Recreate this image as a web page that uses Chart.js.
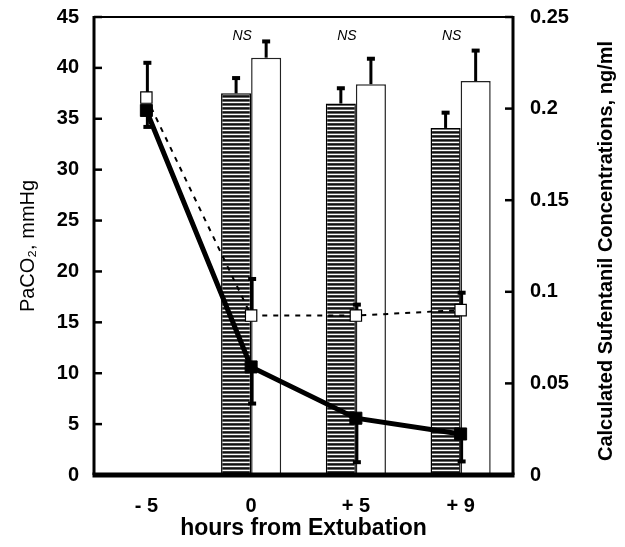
<!DOCTYPE html>
<html><head><meta charset="utf-8">
<script src="https://cdn.jsdelivr.net/npm/chart.js@4.4.1/dist/chart.umd.min.js"></script>
<style>html,body{margin:0;padding:0;background:#fff;} #wrap{width:625px;height:547px;}</style>
</head><body><div id="wrap"><canvas id="c" width="625" height="547"></canvas></div>
<script>
// ---- data ----
const categories = ['- 5', '0', '+ 5', '+ 9'];
const paco2Hatched = [null, 37.5, 36.5, 34.1];
const paco2HatchedErr = [null, 1.5, 1.5, 1.5];
const paco2Open = [null, 41.0, 38.4, 38.7];
const paco2OpenErr = [null, 1.6, 2.5, 3.0];
const sufSolid = [0.199, 0.059, 0.031, 0.0224];
const sufSolidErr = [0.009, 0.020, 0.024, 0.015];
const sufDashed = [0.206, 0.087, 0.087, 0.090];
const sufDashedErr = [0.019, 0.020, 0.006, 0.0095];
const leftTickLabels = ['0', '5', '10', '15', '20', '25', '30', '35', '40', '45'];
const rightTickLabels = ['0', '0.05', '0.1', '0.15', '0.2', '0.25'];
const nsLabels = ['', 'NS', 'NS', 'NS'];
const rightTitle = 'Calculated Sufentanil Concentrations, ng/ml';

const FONT = '"Liberation Sans", Arial, Helvetica, sans-serif';

// hatched fill pattern
function makePattern() {
  const p = document.createElement('canvas');
  p.width = 4; p.height = 4;
  const g = p.getContext('2d');
  const rows = ['#111', '#666', '#ffffff', '#3a3a3a'];
  rows.forEach((c, i) => { g.fillStyle = c; g.fillRect(0, i, 4, 1); });
  return document.getElementById('c').getContext('2d').createPattern(p, 'repeat');
}
const hatch = makePattern();

// dir: +1 = upward error bar, -1 = downward
function errBar(ctx, x, yScale, v, e, dir) {
  if (v == null || e == null) return;
  const yEnd = yScale.getPixelForValue(v + dir * e);
  const yMid = yScale.getPixelForValue(v);
  ctx.save();
  ctx.strokeStyle = '#000';
  ctx.fillStyle = '#000';
  ctx.lineWidth = 3;
  ctx.beginPath();
  ctx.moveTo(x, yMid);
  ctx.lineTo(x, yEnd);
  ctx.stroke();
  ctx.fillRect(x - 4, yEnd - 2, 8, 4);
  ctx.restore();
}

const decor = {
  id: 'decor',
  afterDatasetDraw(chart, args) {
    if (args.index !== 0) return;
    const ctx = chart.ctx;
    const y = chart.scales.y, y2 = chart.scales.y2;
    const m0 = chart.getDatasetMeta(0), m1 = chart.getDatasetMeta(1);
    const m2 = chart.getDatasetMeta(2), m3 = chart.getDatasetMeta(3);
    for (let i = 0; i < categories.length; i++) {
      errBar(ctx, m0.data[i].x, y, paco2Hatched[i], paco2HatchedErr[i], 1);
      errBar(ctx, m1.data[i].x, y, paco2Open[i], paco2OpenErr[i], 1);
      errBar(ctx, m2.data[i].x + 1, y2, sufSolid[i], sufSolidErr[i], -1);
      errBar(ctx, m3.data[i].x + 1, y2, sufDashed[i], sufDashedErr[i], 1);
    }
  },
  afterDraw(chart) {
    const ctx = chart.ctx;
    const a = chart.chartArea;
    const y = chart.scales.y, y2 = chart.scales.y2, x = chart.scales.x;
    ctx.save();
    ctx.strokeStyle = '#000';
    // ticks inside
    ctx.lineWidth = 2.5;
    y.ticks.forEach(t => {
      const py = y.getPixelForValue(t.value);
      ctx.beginPath(); ctx.moveTo(a.left, py); ctx.lineTo(a.left + 8, py); ctx.stroke();
    });
    y2.ticks.forEach(t => {
      const py = y2.getPixelForValue(t.value);
      ctx.beginPath(); ctx.moveTo(a.right - 8, py); ctx.lineTo(a.right, py); ctx.stroke();
    });
    // frame
    ctx.lineWidth = 2;
    ctx.beginPath(); ctx.moveTo(a.left, a.top); ctx.lineTo(a.right, a.top); ctx.stroke();
    ctx.lineWidth = 3;
    ctx.beginPath(); ctx.moveTo(a.left, a.top - 1); ctx.lineTo(a.left, a.bottom); ctx.stroke();
    ctx.beginPath(); ctx.moveTo(a.right, a.top - 1); ctx.lineTo(a.right, a.bottom); ctx.stroke();
    ctx.lineWidth = 5;
    ctx.beginPath(); ctx.moveTo(a.left - 1.5, a.bottom); ctx.lineTo(a.right + 1.5, a.bottom); ctx.stroke();
    // NS labels
    ctx.fillStyle = '#000';
    ctx.font = 'italic 14px ' + FONT;
    ctx.textAlign = 'center';
    ctx.textBaseline = 'middle';
    nsLabels.forEach((s, i) => {
      if (!s) return;
      ctx.fillText(s, x.getPixelForValue(i) - 9, a.top + 19);
    });
    // right axis title, reading bottom-to-top
    ctx.font = 'bold 20px ' + FONT;
    ctx.translate(y2.right - 19, (a.top + a.bottom) / 2 + 5);
    ctx.rotate(-Math.PI / 2);
    ctx.fillText(rightTitle, 0, 0);
    ctx.restore();
  }
};

new Chart(document.getElementById('c'), {
  type: 'bar',
  data: {
    labels: categories,
    datasets: [
      { type: 'bar', data: paco2Hatched, yAxisID: 'y', backgroundColor: hatch,
        borderColor: '#000', borderWidth: 1.5, order: 3,
        barPercentage: 1.0, categoryPercentage: 0.574 },
      { type: 'bar', data: paco2Open, yAxisID: 'y', backgroundColor: '#fff',
        borderColor: '#222', borderWidth: 1.5, order: 4,
        barPercentage: 1.0, categoryPercentage: 0.574 },
      { type: 'line', data: sufSolid, yAxisID: 'y2', borderColor: '#000', borderWidth: 5,
        pointStyle: 'rect', pointRadius: 8.5, pointBackgroundColor: '#000', pointBorderColor: '#000',
        pointBorderWidth: 1, tension: 0, fill: false, order: 2 },
      { type: 'line', data: sufDashed, yAxisID: 'y2', borderColor: '#000', borderWidth: 2,
        borderDash: [5, 6], pointStyle: 'rect', pointRadius: 8, pointBackgroundColor: '#fff',
        pointBorderColor: '#000', pointBorderWidth: 1.2, tension: 0, fill: false, order: 1 }
    ]
  },
  options: {
    responsive: false,
    animation: false,
    devicePixelRatio: 1,
    layout: { padding: { top: 17, left: 0, right: 0, bottom: 0 } },
    plugins: { legend: { display: false }, tooltip: { enabled: false } },
    scales: {
      x: {
        offset: true,
        grid: { display: false, drawTicks: false },
        border: { display: false },
        ticks: { color: '#000', font: { family: FONT, size: 20, weight: 'bold' }, padding: 19,
                 autoSkip: false, maxRotation: 0 },
        title: { display: true, text: 'hours from Extubation', color: '#000',
                 font: { family: FONT, size: 23, weight: 'bold' }, padding: { top: 0, bottom: 5 } },
        afterFit(s) { s.height = 72; s.paddingLeft = 0; s.paddingRight = 0; }
      },
      y: {
        position: 'left', min: 0, max: 45,
        grid: { display: false, drawTicks: false },
        border: { display: false },
        ticks: { stepSize: 5, color: '#000', padding: 15,
                 font: { family: FONT, size: 20, weight: 'bold' },
                 callback: (v, i) => leftTickLabels[i] },
        title: { display: true, text: 'PaCO₂, mmHg', color: '#000',
                 font: { family: FONT, size: 20, weight: 'normal' }, padding: { top: 16, bottom: 0 } },
        afterFit(s) { s.width = 94; s.paddingTop = 0; s.paddingBottom = 0; }
      },
      y2: {
        position: 'right', min: 0, max: 0.25,
        grid: { display: false, drawTicks: false },
        border: { display: false },
        ticks: { stepSize: 0.05, color: '#000', padding: 17,
                 font: { family: FONT, size: 20, weight: 'bold' },
                 callback: (v, i) => rightTickLabels[i] },
        title: { display: false },
        afterFit(s) { s.width = 112; s.paddingTop = 0; s.paddingBottom = 0; }
      }
    }
  },
  plugins: [decor]
});
</script></body></html>
